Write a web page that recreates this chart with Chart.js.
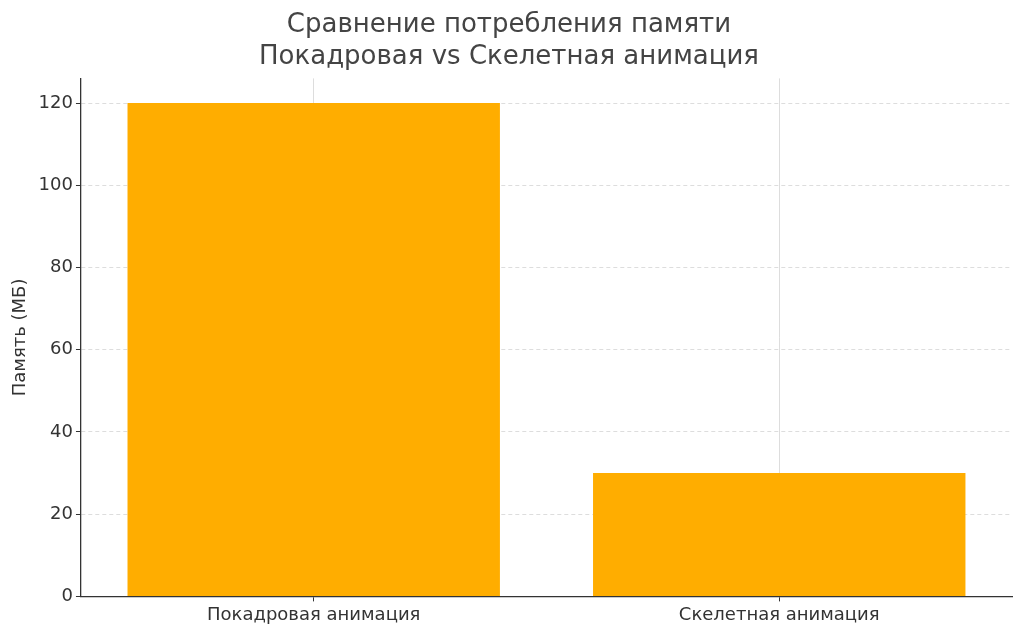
<!DOCTYPE html>
<html><head><meta charset="utf-8">
<script src="https://cdn.jsdelivr.net/npm/chart.js@4"></script>
<style>html,body{margin:0;background:#fff}#w{width:1024px;height:635px}</style>
</head><body><div id="w"><canvas id="c"></canvas></div>
<script>
const categories = ["Покадровая анимация", "Скелетная анимация"];
const memoryMB = [120, 30];
const titleLines = ["Сравнение потребления памяти", "Покадровая vs Скелетная анимация"];
const yTicks = [0, 20, 40, 60, 80, 100, 120];

new Chart(document.getElementById('c'), {
  type: 'bar',
  data: { labels: categories, datasets: [{ data: memoryMB, backgroundColor: '#FFAD00', barPercentage: 0.8, categoryPercentage: 1 }] },
  options: {
    responsive: true, maintainAspectRatio: false, animation: false,
    layout: { padding: { left: 6, right: 12, top: 4, bottom: 6 } },
    plugins: {
      legend: { display: false }, tooltip: { enabled: false },
      title: { display: true, text: titleLines, color: '#444', font: { family: 'DejaVu Sans', size: 26, weight: 'normal' }, padding: { top: 6, bottom: 6 }, lineHeight: 1.25 }
    },
    scales: {
      x: {
        grid: { color: '#ddd', drawTicks: true, tickColor: '#333', tickLength: 5, offset: false },
        border: { color: '#333', width: 1.3 },
        ticks: { color: '#333', font: { family: 'DejaVu Sans', size: 18 } }
      },
      y: {
        min: 0, max: 126,
        afterBuildTicks: a => { a.ticks = yTicks.map(v => ({ value: v })); },
        grid: { color: '#ddd', tickColor: '#333', tickLength: 5 },
        border: { color: '#333', width: 1.3, dash: [4, 3] },
        ticks: { color: '#333', font: { family: 'DejaVu Sans', size: 18 } },
        title: { display: true, text: 'Память (МБ)', color: '#333', font: { family: 'DejaVu Sans', size: 18 } }
      }
    }
  },
  plugins: [{
    id: 'dash',
    beforeDraw(ch) {
      ch.options.scales.x.grid.borderDash = [4, 3];
    }
  }]
});
</script></body></html>
